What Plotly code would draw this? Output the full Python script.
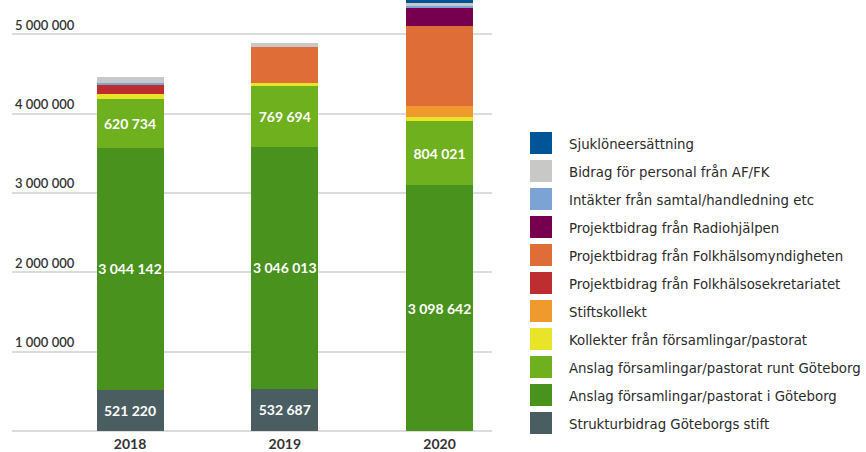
import plotly.graph_objects as go

years = ["2018", "2019", "2020"]

series_names = [
    "Strukturbidrag Göteborgs stift",
    "Anslag församlingar/pastorat i Göteborg",
    "Anslag församlingar/pastorat runt Göteborg",
    "Kollekter från församlingar/pastorat",
    "Stiftskollekt",
    "Projektbidrag från Folkhälsosekretariatet",
    "Projektbidrag från Folkhälsomyndigheten",
    "Projektbidrag från Radiohjälpen",
    "Intäkter från samtal/handledning etc",
    "Bidrag för personal från AF/FK",
    "Sjuklöneersättning",
]

struktur = [521220, 532687, None]
anslag_gbg = [3044142, 3046013, 3098642]
anslag_runt = [620734, 769694, 804021]
kollekter = [63000, 38000, 55000]
stiftskollekt = [None, None, 136000]
folkhalsosekretariatet = [114000, None, None]
folkhalsomyndigheten = [None, 448000, 1015000]
radiohjalpen = [None, None, 228000]
intakter = [25000, None, 13000]
af_fk = [76000, 60000, 51000]
sjukloneersattning = [None, None, 25000]

series_values = [struktur, anslag_gbg, anslag_runt, kollekter, stiftskollekt,
                 folkhalsosekretariatet, folkhalsomyndigheten, radiohjalpen,
                 intakter, af_fk, sjukloneersattning]

colors = ["#4A5E62", "#4A921E", "#6FB01E", "#E8E42A", "#EF9A2D",
          "#BE2D30", "#DE6D37", "#76004F", "#7BA3D4", "#C8C8C6", "#005596"]

labelled = {0, 1, 2}

tick_vals = [1000000, 2000000, 3000000, 4000000, 5000000]

W, H = 866, 452
ML, MR, MT, MB = 12, 374, 0, 21
PW = W - ML - MR
PH = H - MT - MB

fig = go.Figure()
for i, (name, vals, col) in enumerate(zip(series_names, series_values, colors)):
    fig.add_trace(go.Bar(
        x=years, y=vals, name=name,
        marker=dict(color=col, line=dict(width=0)),
        width=0.433,
        texttemplate="%{y:,.0f}" if i in labelled else None,
        textposition="inside" if i in labelled else "none",
        insidetextanchor="middle",
        textangle=0,
        constraintext="none",
        textfont=dict(family="Lato, Open Sans, sans-serif", size=14, color="white", weight="bold"),
        showlegend=False,
        hoverinfo="name+y",
    ))

# custom legend (large swatches), top item = top of stack
shapes = []
annotations = []
for k, idx in enumerate(range(len(series_names) - 1, -1, -1)):
    cy = 143 + 28 * k
    y0 = (H - MB - (cy + 11)) / PH
    y1 = (H - MB - (cy - 11)) / PH
    x0 = (530 - ML) / PW
    x1 = (552 - ML) / PW
    shapes.append(dict(type="rect", xref="paper", yref="paper", x0=x0, x1=x1, y0=y0, y1=y1,
                       fillcolor=colors[idx], line=dict(width=0)))
    annotations.append(dict(xref="paper", yref="paper", x=(567 - ML) / PW,
                            y=(H - MB - cy) / PH, xanchor="left", yanchor="middle",
                            text=series_names[idx], showarrow=False,
                            font=dict(family="DejaVu Sans Condensed, Liberation Sans Narrow, sans-serif",
                                      size=14.8, color="#2b2b2b")))

fig.update_layout(
    width=W, height=H,
    margin=dict(l=ML, r=MR, t=MT, b=MB, autoexpand=False),
    barmode="stack",
    separators=". ",
    plot_bgcolor="white", paper_bgcolor="white",
    showlegend=False,
    shapes=shapes,
    annotations=annotations,
    uniformtext=dict(mode=False),
    xaxis=dict(type="category", range=[-0.7625, 2.339], showgrid=False, zeroline=False,
               showline=False, ticks="", ticklabelstandoff=3, automargin=False,
               tickfont=dict(family="Lato, Open Sans, sans-serif", size=14, color="#333333", weight="bold")),
    yaxis=dict(range=[0, 5430000], tickvals=tick_vals, tickformat=",.0f", automargin=False,
               ticklabelposition="inside top", showgrid=True, gridcolor="#dcdcdc", gridwidth=2,
               zeroline=True, zerolinecolor="#dcdcdc", zerolinewidth=2, showline=False, ticks="",
               tickfont=dict(family="Lato, Open Sans, sans-serif", size=13, color="#333333", weight=600)),
)

fig.write_html("out.html", config={"displayModeBar": False},
               post_script="document.body.style.margin='0';document.body.style.overflow='hidden';")
